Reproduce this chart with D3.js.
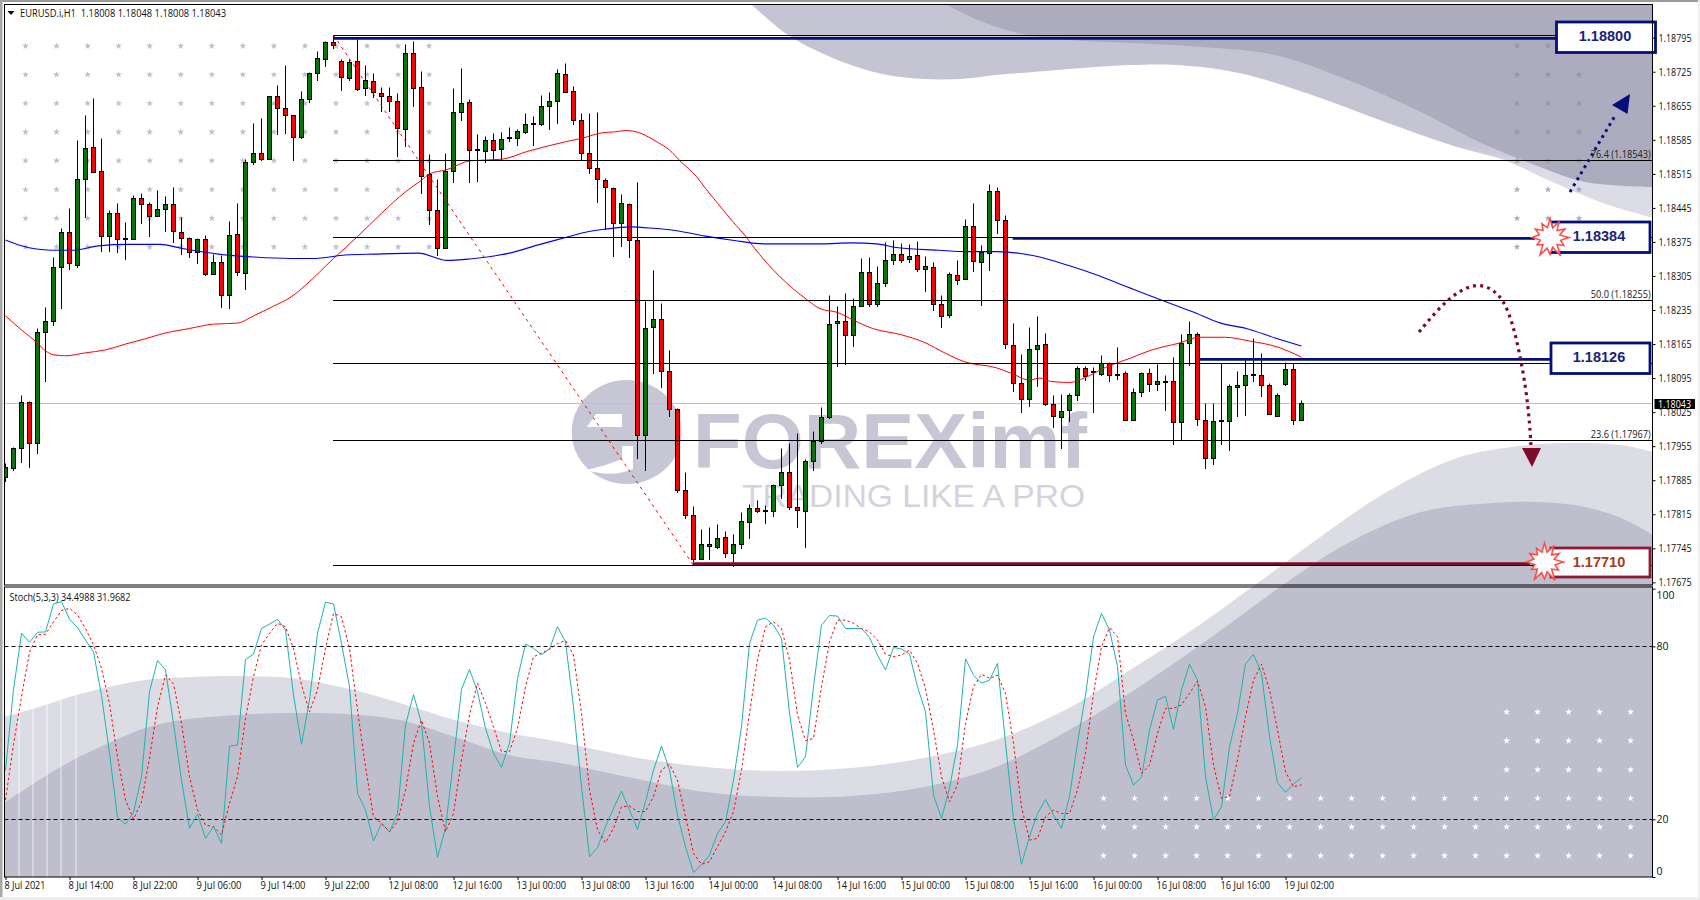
<!DOCTYPE html>
<html><head><meta charset="utf-8">
<style>html,body{margin:0;padding:0;background:#fff;overflow:hidden}svg{display:block}</style>
<script src="https://cdn.jsdelivr.net/npm/d3@7/dist/d3.min.js"></script></head>
<body><svg id="c" width="1700" height="900" xmlns="http://www.w3.org/2000/svg"></svg>
<script>
// Prices are written in 1/100000 above 1.00000 (18008 = 1.18008)
const opens=[
17892,17909,17951,18045,17961,18189,18212,18323,18395,18328,
18504,18570,18519,18386,18434,18382,18380,18465,18452,18427,
18442,18452,18395,18382,18353,18380,18308,18333,18265,18391,
18310,18539,18557,18544,18674,18650,18635,18590,18668,18722,
18750,18785,18746,18711,18746,18689,18705,18681,18674,18664,
18606,18763,18692,18513,18439,18361,18519,18641,18662,18563,
18561,18584,18565,18588,18587,18600,18617,18617,18654,18664,
18720,18684,18625,18557,18526,18502,18485,18413,18452,18378,
17976,18199,18216,18109,18031,17864,17813,17722,17753,17748,
17768,17735,17753,17799,17827,17822,17822,17875,17901,17829,
17822,17924,17965,18014,18208,18212,18183,18243,18312,18247,
18290,18337,18350,18338,18347,18318,18323,18247,18223,18306,
18297,18407,18334,18352,18479,18419,18162,18084,18051,18154,
18164,18041,18014,18029,18060,18115,18107,18103,18125,18101,
18105,18008,18066,18105,18082,18088,18088,18004,18167,18185,
18008,17930,18006,18006,18075,18080,18101,18101,18080,18017,
18082,18113,18008];
const highs=[
17918,17951,18058,18045,18195,18239,18341,18402,18442,18582,
18635,18669,18586,18439,18452,18413,18469,18473,18456,18479,
18468,18485,18424,18384,18382,18387,18348,18346,18415,18454,
18543,18617,18628,18674,18696,18737,18635,18684,18722,18766,
18787,18798,18749,18750,18790,18737,18720,18691,18691,18679,
18780,18787,18724,18554,18502,18556,18689,18730,18667,18595,
18590,18596,18600,18609,18606,18639,18631,18675,18682,18729,
18741,18693,18638,18638,18641,18504,18485,18471,18454,18496,
18251,18315,18247,18151,18031,17899,17829,17783,17786,17793,
17778,17772,17817,17834,17842,17833,17875,17949,17960,17980,
17927,17985,18033,18264,18241,18268,18257,18339,18341,18323,
18372,18376,18370,18368,18374,18345,18331,18264,18312,18336,
18421,18452,18366,18493,18485,18428,18206,18142,18199,18220,
18185,18058,18060,18062,18117,18117,18115,18140,18127,18156,
18107,18072,18105,18113,18122,18100,18136,18184,18210,18187,
18042,18042,18124,18080,18107,18132,18175,18144,18082,18062,
18127,18123,18048];
const lows=[
17882,17905,17921,17911,17940,18088,18203,18239,18319,18322,
18425,18519,18355,18355,18353,18338,18380,18413,18386,18427,
18396,18373,18350,18343,18330,18306,18308,18240,18238,18305,
18278,18535,18543,18544,18595,18598,18543,18588,18661,18707,
18735,18772,18687,18707,18686,18676,18672,18643,18643,18550,
18571,18653,18474,18411,18348,18361,18497,18624,18497,18500,
18538,18543,18543,18581,18574,18598,18573,18615,18607,18619,
18682,18617,18543,18515,18456,18400,18345,18365,18343,17930,
17905,18105,18076,18016,17859,17806,17718,17722,17721,17745,
17726,17707,17745,17765,17818,17796,17810,17848,17825,17788,
17746,17905,17961,18012,18119,18123,18160,18243,18243,18243,
18283,18328,18332,18332,18314,18274,18234,18199,18219,18288,
18297,18314,18244,18316,18392,18156,18067,18024,18036,18077,
18038,17993,17951,18005,18049,18090,18024,18101,18088,18093,
18008,18008,18057,18067,18069,18028,17959,17968,18121,17997,
17909,17918,17959,17946,18017,18019,18088,18057,18020,18016,
18079,18000,18008];
const closes=[
17912,17951,18045,17961,18189,18212,18323,18395,18331,18504,
18567,18519,18386,18434,18380,18382,18465,18452,18427,18442,
18452,18396,18382,18353,18380,18308,18333,18265,18389,18312,
18539,18557,18544,18674,18650,18635,18590,18668,18722,18752,
18785,18779,18713,18744,18689,18706,18683,18674,18664,18608,
18763,18692,18509,18439,18361,18519,18641,18660,18563,18565,
18584,18563,18586,18589,18602,18617,18618,18654,18664,18722,
18684,18625,18557,18526,18503,18487,18413,18454,18378,17976,
18197,18216,18109,18031,17864,17813,17722,17753,17748,17766,
17735,17753,17801,17827,17820,17821,17875,17901,17829,17822,
17924,17965,18014,18206,18212,18183,18243,18312,18247,18290,
18337,18350,18338,18345,18318,18325,18247,18223,18308,18295,
18407,18334,18354,18479,18419,18164,18084,18051,18154,18162,
18041,18016,18027,18060,18115,18099,18108,18125,18101,18102,
18008,18066,18105,18082,18088,18087,18004,18167,18185,18010,
17930,18006,18007,18078,18080,18101,18102,18080,18020,18060,
18113,18008,18043];

// Moving averages: bar index + price
const redMaBars=[0,2,4,5,6,7.5,10,12.5,15,17.5,19.8,23,26,29,31,33.4,35.7,37.5,41,44,47,50,52,53,55,58.2,62,65.2,70,72,74.8,76,77.5,78.4,81.6,83,84.3,86.4,87.5,89.3,90.9,92.5,93.4,100.2,101.8,104,106,108.4,112,114.8,117.5,119.8,123.9,125.7,128,129.3,130.7,133,134.8,137.5,140.6,143.3,146.7,149.2,152.4,155.6,158.8,162];
const redMaValues=[18223,18194,18167,18151,18143,18141,18147,18153,18165,18176,18187,18197,18206,18208,18223,18242,18262,18286,18341,18386,18434,18478,18502,18515,18523,18542,18545,18561,18581,18588,18600,18601,18604,18603,18579,18564,18542,18509,18485,18449,18417,18387,18367,18256,18238,18230,18214,18197,18184,18169,18146,18129,18116,18105,18091,18095,18088,18086,18095,18117,18136,18153,18167,18179,18179,18171,18160,18138];
const blueMaBars=[0,2,5.7,8.4,11.6,15.2,19.3,22,26.6,31,35.7,38.4,42.5,46.1,51.6,55.2,58,63,66.6,70,72.5,74.8,78,81,83.9,87.5,91.1,94.8,102,105.7,108.9,111.6,116.6,120.2,123.9,128.4,133,136.6,140.6,144.2,148.3,151.9,155.1,158.8,162];
const blueMaValues=[18379,18367,18358,18358,18367,18370,18370,18362,18350,18344,18341,18341,18348,18350,18352,18337,18340,18352,18369,18384,18395,18401,18406,18403,18398,18387,18378,18371,18371,18373,18371,18363,18358,18355,18355,18347,18326,18306,18280,18257,18232,18208,18197,18177,18161];

const stochMain=[
37,65,84.5,81.4,84.9,85,94.7,95.5,89.4,86.5,
82.2,78.1,63,43,20.7,18.3,22.4,34.8,64.3,75.1,
71.8,53.3,33.6,16.9,21.8,13.4,17.5,11.7,45.4,45.8,
75.5,77.3,86.2,87.7,89.4,85.7,63.1,46,61.4,84.5,
95.3,94.7,81,66,29,23.2,12.5,18.6,15.7,22,
52.7,63.3,53.3,24.4,6.8,16.9,40.6,65.1,72,64.3,
51.6,42.9,38,46.4,68.9,80.8,79.3,77.1,79.1,86.8,
81.6,59,31.3,7,10.2,17.5,23.8,29.8,23.2,16.5,
26.1,37.1,45.4,37.1,21.5,10.5,1.6,4.2,7.6,15.1,
19.2,33.6,52.1,81,89.1,89.8,87.4,82.8,56.8,38,
41.7,66,87.4,90.7,90.5,86.2,86.2,86.2,83.1,77,
71.8,79.6,79.1,77.3,66,57.3,28.4,20.3,30.8,45.8,
75.7,70,67.2,68.3,74.1,46.4,20.3,4.4,14,22,
26.9,21.5,16.9,27.9,46.4,63.1,83.3,91.4,85.7,73,
38.8,31.9,34.6,51,61.4,62.7,51.2,64.9,73.8,68.3,
34.8,19.8,24.4,45.2,56.8,73.9,77.2,70.6,48.7,32.7,
29.4,32.3,34.4988];
const stochSignal=[
26.7,46,62.5,78,84,84.2,88.5,92.4,93.2,90.9,
86.2,80.5,72.4,60.2,41.7,26.7,20.1,26.1,41.2,59,
70,67,53.3,34.8,23.2,18,17.5,14.6,25.6,34.8,
55,69.5,80.5,84.5,88,86.8,79.3,66.6,57.3,64.9,
79.3,91.4,90.3,79.3,57.9,38.3,20.9,18.6,15.7,19.2,
30.2,46.4,54.4,46.4,27.9,15.7,22,40.6,56.2,67.2,
60.2,52.1,43.5,43.5,51.6,66,76.4,77.6,79,81,
82,77,56.8,30.2,16.3,11.9,16.9,24.4,24.6,22.7,
22.7,27.9,37.1,39.1,33.6,20.9,8.2,4.4,5.3,10.5,
15.7,22.7,37.1,56.8,75.3,86.8,88.5,86.2,75.3,56.2,
47.3,48.1,66,81.6,89.1,89.1,88,86.2,85,82.2,
77.3,76.4,77,78.7,74.1,65.4,51,34.8,26.1,31.9,
53.3,66,70.3,68.9,70,63.7,46.4,24.4,12.8,13.4,
20.9,23.2,22,22,30.2,42.9,63.7,79.9,86.5,83.3,
56.8,47.5,36,38.8,49.8,58.5,58.5,59.7,63.7,68,
59,38.8,27.3,27.9,40.6,55.6,68.3,73.8,64.9,51,
36.5,31.3,31.9682];

const priceTicks=[1.18795,1.18725,1.18655,1.18585,1.18515,1.18445,1.18375,1.18305,1.18235,1.18165,1.18095,1.18025,1.17955,1.17885,1.17815,1.17745,1.17675];
const stochTicks=[0,20,80,100];
const dateTickBars=[0,8,16,24,32,40,48,56,64,72,80,88,96,104,112,120,128,136,144,152,160];
const dateTickLabels=["8 Jul 2021","8 Jul 14:00","8 Jul 22:00","9 Jul 06:00","9 Jul 14:00","9 Jul 22:00","12 Jul 08:00","12 Jul 16:00","13 Jul 00:00","13 Jul 08:00","13 Jul 16:00","14 Jul 00:00","14 Jul 08:00","14 Jul 16:00","15 Jul 00:00","15 Jul 08:00","15 Jul 16:00","16 Jul 00:00","16 Jul 08:00","16 Jul 16:00","19 Jul 02:00"];

const fibLevels=[0,23.6,38.2,50,61.8,76.4,100];
const fibPrices=[1.17710,1.17967,1.18126,1.18255,1.18384,1.18543,1.18800];
const fibLabelled=[23.6,50,76.4];
const lastPrice=1.18043;
const levelPrices=[1.18800,1.18384,1.18126,1.17710];
const levelStartBars=[41,125,149,86];

const F="'Open Sans','Noto Sans',sans-serif";
const svg=d3.select("#c");
const P=v=>1+v/1e5;
const L=4.5,R=1652.5,T=4.5,MB=585,ST=587,SB=877;
const x=d3.scaleLinear().domain([0,162]).range([5.5,1301.5]);
const y=d3.scaleLinear().domain([1.18795,1.17745]).range([37.7,548.3]);
const s=d3.scaleLinear().domain([0,100]).range([877,588.7]);
const crisp=v=>Math.round(v-.5)+.5;

// page frame
svg.append("rect").attr("width",1700).attr("height",900).attr("fill","#fff");
svg.append("rect").attr("width",1700).attr("height",2).attr("fill","#9a9a9a");
svg.append("rect").attr("width",2.5).attr("height",900).attr("fill","#a8a8a8");
svg.append("rect").attr("y",897).attr("width",1700).attr("height",3).attr("fill","#ededed");
svg.append("rect").attr("x",1698).attr("width",2).attr("height",900).attr("fill","#ededed");

const defs=svg.append("defs");
defs.append("clipPath").attr("id","mainClip").append("rect").attr("x",L).attr("y",T).attr("width",R-L).attr("height",MB-T);
defs.append("clipPath").attr("id","stochClip").append("rect").attr("x",L).attr("y",ST).attr("width",R-L).attr("height",SB-ST);
defs.append("clipPath").attr("id","allClip").append("rect").attr("x",L).attr("y",T).attr("width",R-L).attr("height",SB-T);
const g1=defs.append("linearGradient").attr("id","outerTop").attr("gradientUnits","userSpaceOnUse").attr("x1",0).attr("x2",0).attr("y1",0).attr("y2",900);
[[0,"#c5c4d3"],[.16,"#c5c4d3"],[.19,"#dcdce6"],[1,"#dcdce6"]].forEach(d=>g1.append("stop").attr("offset",d[0]).attr("stop-color",d[1]));

// background swooshes (decoration)
const bg=svg.append("g").attr("clip-path","url(#allClip)");
const area=d3.line().curve(d3.curveCatmullRom.alpha(.5));
const shape=(pts,close,fill)=>bg.append("path").attr("d",area(pts)+close).attr("fill",fill);
shape([[751,4],[785,33],[815,50],[851,65],[887,75],[924,79],[960,79],[996,75],[1033,72],[1069,69],[1130,65],[1177,65],[1239,73],[1312,95],[1385,122],[1457,147],[1504,160],[1548,180],[1603,203],[1653,218]],"L1653,4Z","url(#outerTop)");
shape([[945,4],[978,20],[1018,33],[1069,40],[1130,43],[1203,47],[1275,55],[1348,80],[1421,112],[1475,140],[1530,163],[1585,182],[1653,187]],"L1653,4Z","#adacbe");
shape([[4,717],[36,708],[76,695],[109,687],[145,680],[193,677],[236,676],[291,678],[345,688],[400,703],[455,720],[509,733],[560,742],[633,757],[705,767],[778,771],[851,768],[924,758],[996,740],[1069,708],[1130,670],[1195,628],[1259,582],[1312,543],[1385,493],[1457,458],[1512,447],[1566,443],[1621,445],[1653,452]],"L1653,878L4,878Z","#dcdce5");
shape([[4,803],[36,782],[73,760],[109,743],[145,728],[182,720],[236,715],[291,713],[345,714],[400,720],[455,737],[509,755],[560,763],[633,778],[705,792],[778,797],[851,796],[924,787],[996,767],[1069,730],[1130,693],[1203,643],[1290,580],[1348,543],[1421,512],[1494,503],[1541,502],[1585,507],[1621,518],[1653,535]],"L1653,878L4,878Z","#bfbecd");
// faint vertical stripes at the lower left
[19,33,47,61,76].forEach((v,i)=>bg.append("line").attr("x1",v).attr("x2",v).attr("y1",[708,705,698,690,686][i]).attr("y2",877).attr("stroke","#fff").attr("stroke-width",1.6).attr("opacity",.45));

// dot grids
const star=d3.symbol().type(d3.symbolStar);
const dotRows=[46,74.7,103.4,132,160.7,189.6,218.3,247];
const leftCols=d3.range(14).map(i=>25.5+31.05*i);
const rightCols=[1517,1548,1579];
const dots=bg.append("g");
const put=(cols,rows,fill,op,size)=>rows.forEach(r=>cols.forEach(c=>dots.append("path").attr("d",star.size(size)()).attr("transform",`translate(${c},${r})`).attr("fill",fill).attr("opacity",op)));
put(leftCols,dotRows,"#a9a9c0",.75,15);
put(rightCols,dotRows,"#8f8ea4",.75,15);
const wc=d3.range(18).map(i=>1103.6+31*i);
put(wc,[798.3,827,855.7],"#fff",.95,16);
put(wc.slice(13),[712,740.7,769.7],"#fff",.95,16);

// watermark
const wm=svg.append("g").attr("clip-path","url(#mainClip)");
wm.append("ellipse").attr("cx",626.7).attr("cy",432).attr("rx",55).attr("ry",52).attr("fill","#c6c6d4");
wm.append("path").attr("d","M596,414 L622,414 L622,427 L587,427 Z").attr("fill","#fff");
wm.append("path").attr("d","M587,470 Q612,478 633,469 L633,446 L622,446 L622,459 Q605,466 587,470 Z").attr("fill","#fff");
wm.append("text").attr("x",693).attr("y",468).attr("font-family","'Liberation Sans',Arial,sans-serif").attr("font-weight",700).attr("font-size",78).attr("fill","#c6c6d4").attr("textLength",394).attr("lengthAdjust","spacingAndGlyphs").text("FOREXimf");
wm.append("text").attr("x",742).attr("y",507).attr("font-family","'Liberation Sans',Arial,sans-serif").attr("font-size",32).attr("fill","#d3d3de").attr("textLength",343).attr("lengthAdjust","spacingAndGlyphs").text("TRADING LIKE A PRO");

// last-price line
const main=svg.append("g").attr("clip-path","url(#mainClip)");
main.append("line").attr("x1",L).attr("x2",R).attr("y1",crisp(y(lastPrice))).attr("y2",crisp(y(lastPrice))).attr("stroke","#c0c0c0").attr("stroke-width",1);

// candles
const bars=d3.range(opens.length);
const c=main.append("g");
c.selectAll("line").data(bars).join("line")
 .attr("x1",d=>x(d)).attr("x2",d=>x(d))
 .attr("y1",d=>crisp(y(P(highs[d]))-.5)).attr("y2",d=>crisp(y(P(lows[d])))+.5)
 .attr("stroke","#000").attr("stroke-width",1);
c.selectAll("rect").data(bars).join("rect")
 .attr("x",d=>x(d)-2).attr("width",4)
 .attr("y",d=>crisp(Math.min(y(P(opens[d])),y(P(closes[d])))))
 .attr("height",d=>Math.max(1,Math.round(Math.abs(y(P(opens[d]))-y(P(closes[d]))))))
 .attr("fill",d=>closes[d]>=opens[d]?"#007a00":"#ff0000")
 .attr("stroke","#000").attr("stroke-width",1);

// moving averages
const curve=d3.line().x(d=>x(d[0])).y(d=>y(P(d[1]))).curve(d3.curveMonotoneX);
main.append("path").attr("d",curve(d3.zip(redMaBars,redMaValues))).attr("fill","none").attr("stroke","#ff0000").attr("stroke-width",1);
main.append("path").attr("d",curve(d3.zip(blueMaBars,blueMaValues))).attr("fill","none").attr("stroke","#0000f0").attr("stroke-width",1.1);

// Fibonacci grid
const fx0=x(41)+0; const fibG=main.append("g");
fibG.selectAll("line").data(fibPrices).join("line")
 .attr("x1",333).attr("x2",R).attr("y1",d=>crisp(y(d))).attr("y2",d=>crisp(y(d)))
 .attr("stroke","#000").attr("stroke-width",1);
main.append("line").attr("x1",x(41)).attr("y1",y(fibPrices[6])).attr("x2",x(86)).attr("y2",y(fibPrices[0]))
 .attr("stroke","#ff0000").attr("stroke-width",1).attr("stroke-dasharray","3 4");
fibLabelled.forEach(l=>{const p=fibPrices[fibLevels.indexOf(l)];
 main.append("text").attr("x",1650.7).attr("y",y(p)-2.5).attr("text-anchor","end").attr("font-family",F).attr("font-size",10.5).attr("fill","#222")
  .attr("textLength",60).attr("lengthAdjust","spacingAndGlyphs").text(`${l.toFixed(1)} (${p.toFixed(5)})`);
});

// level lines and boxes
const levelColor=["#050f78","#050f78","#050f78","#7d0a2c"];
const levelEnd=[1556,1535,1551,1530];
levelPrices.forEach((p,i)=>{
 const yy=[38.3,238.3,359.3,563.7][i];
 main.append("line").attr("x1",[333,1012.7,1199,692.7][i]).attr("x2",levelEnd[i]).attr("y1",yy).attr("y2",yy).attr("stroke",levelColor[i]).attr("stroke-width",2.8);
});

// arrows
main.append("line").attr("x1",1570).attr("y1",192).attr("x2",1616).attr("y2",114)
 .attr("stroke","#050f78").attr("stroke-width",3).attr("stroke-dasharray","2.8 4.2");
main.append("path").attr("d","M1630,94L1612,105L1627.5,114Z").attr("fill","#050f78");
main.append("path").attr("d",d3.line().curve(d3.curveBasis)([[1419,332],[1439,308],[1457,292],[1479,282],[1499,293],[1509,312],[1517,340],[1526,387],[1530,427],[1531,447]]))
 .attr("fill","none").attr("stroke","#7d0a2c").attr("stroke-width",3.2).attr("stroke-dasharray","3 4.2");
main.append("path").attr("d","M1522,448L1541,448L1532,467Z").attr("fill","#7d0a2c");

// level boxes
const boxRects=[[1556.5,22,99,30.5],[1551,222,99,30.5],[1551,343,99,30.5],[1551,548,99,29]];
const boxText=[[1605,41],[1599,241],[1599,362],[1599,567]];
const boxInk=["#1b1f78","#1b1f78","#1b1f78","#a53a22"];
const boxLayer=svg.append("g");
levelPrices.forEach((p,i)=>{
 boxLayer.append("rect").attr("x",boxRects[i][0]).attr("y",boxRects[i][1]).attr("width",boxRects[i][2]).attr("height",boxRects[i][3])
  .attr("fill","#fff").attr("stroke",i==3?"#8b1a36":"#050f78").attr("stroke-width",2.8);
 boxLayer.append("text").attr("x",boxText[i][0]).attr("y",boxText[i][1]).attr("text-anchor","middle")
  .attr("font-family","'Liberation Sans',Arial,sans-serif").attr("font-weight",700).attr("font-size",14.5).attr("fill",boxInk[i]).text(p.toFixed(5));
});
// burst stars
const burstR=[19,10,18,10,17,10,19,11,16,10,21,10,17,11,20,10,15,10,18,11,17,10,16,10];
[[1550,237.5],[1544.5,562]].forEach(ct=>{
 const pts=burstR.map((r,i)=>{const a=i/burstR.length*2*Math.PI-Math.PI/2;return [ct[0]+r*Math.cos(a),ct[1]+r*Math.sin(a)];});
 boxLayer.append("path").attr("d",d3.line()(pts)+"Z").attr("fill","#fff").attr("stroke","#ff4848").attr("stroke-width",1.5);
});

// stochastic
const st=svg.append("g").attr("clip-path","url(#stochClip)");
[80,20].forEach(v=>st.append("line").attr("x1",L).attr("x2",R).attr("y1",crisp(s(v))).attr("y2",crisp(s(v))).attr("stroke","#000").attr("stroke-width",1).attr("stroke-dasharray","4 3"));
const sl=d3.line().x((d,i)=>x(i)).y(d=>s(d));
st.append("path").attr("d",sl(stochMain)).attr("fill","none").attr("stroke","#20b2aa").attr("stroke-width",1);
st.append("path").attr("d",sl(stochSignal)).attr("fill","none").attr("stroke","#ff0000").attr("stroke-width",1).attr("stroke-dasharray","2.5 2.5");

// frames
[[L,T,R-L,MB-T],[L,ST,R-L,SB-ST]].forEach(r=>svg.append("rect").attr("x",r[0]).attr("y",r[1]).attr("width",r[2]).attr("height",r[3]).attr("fill","none").attr("stroke","#000").attr("stroke-width",1));

// axes
const styleAxis=(g,len)=>{g.select(".domain").remove();g.selectAll("line").attr("stroke","#000");
 g.selectAll("text").attr("font-family",F).attr("font-size",10.5).attr("fill","#111").attr("lengthAdjust","spacingAndGlyphs");};
const ax=svg.append("g").attr("transform",`translate(${R},0)`).call(d3.axisRight(y).tickValues(priceTicks).tickSize(3).tickPadding(3).tickFormat(d3.format(".5f")));
styleAxis(ax);ax.selectAll("text").attr("textLength",33);
const as=svg.append("g").attr("transform",`translate(${R},0)`).call(d3.axisRight(s).tickValues(stochTicks).tickSize(3).tickPadding(1).tickFormat(d3.format("d")));
styleAxis(as);
as.selectAll("text").attr("dy",d=>d==100?"0.95em":d==0?"-0.25em":"0.32em");
const ad=svg.append("g").attr("transform",`translate(0,${SB})`).call(d3.axisBottom(x).tickValues(dateTickBars).tickSize(3).tickPadding(2).tickFormat(d=>dateTickLabels[dateTickBars.indexOf(d)]));
styleAxis(ad);
ad.selectAll("text").attr("text-anchor","start").attr("dx","-1.5").attr("textLength",(d,i)=>dateTickLabels[i].length==10||dateTickLabels[i].length==11?45:49.5);
ad.selectAll("text").filter(d=>d==0).attr("textLength",41);

// last price tag
svg.append("rect").attr("x",1654.5).attr("y",399).attr("width",40.5).attr("height",10).attr("fill","#000");
svg.append("text").attr("x",1658).attr("y",407.5).attr("font-family",F).attr("font-size",10.5).attr("fill","#fff").attr("textLength",33).attr("lengthAdjust","spacingAndGlyphs").text(lastPrice.toFixed(5));

// headers
svg.append("path").attr("d","M7.5,11L14.5,11L11,15Z").attr("fill","#000");
svg.append("text").attr("x",20).attr("y",16.5).attr("font-family",F).attr("font-size",10.5).attr("fill","#111").attr("xml:space","preserve").attr("textLength",206).attr("lengthAdjust","spacingAndGlyphs").text("EURUSD.i,H1  1.18008 1.18048 1.18008 1.18043");
svg.append("text").attr("x",9.5).attr("y",600.5).attr("font-family",F).attr("font-size",10.5).attr("fill","#111").attr("textLength",121).attr("lengthAdjust","spacingAndGlyphs").text("Stoch(5,3,3) 34.4988 31.9682");
</script></body></html>
